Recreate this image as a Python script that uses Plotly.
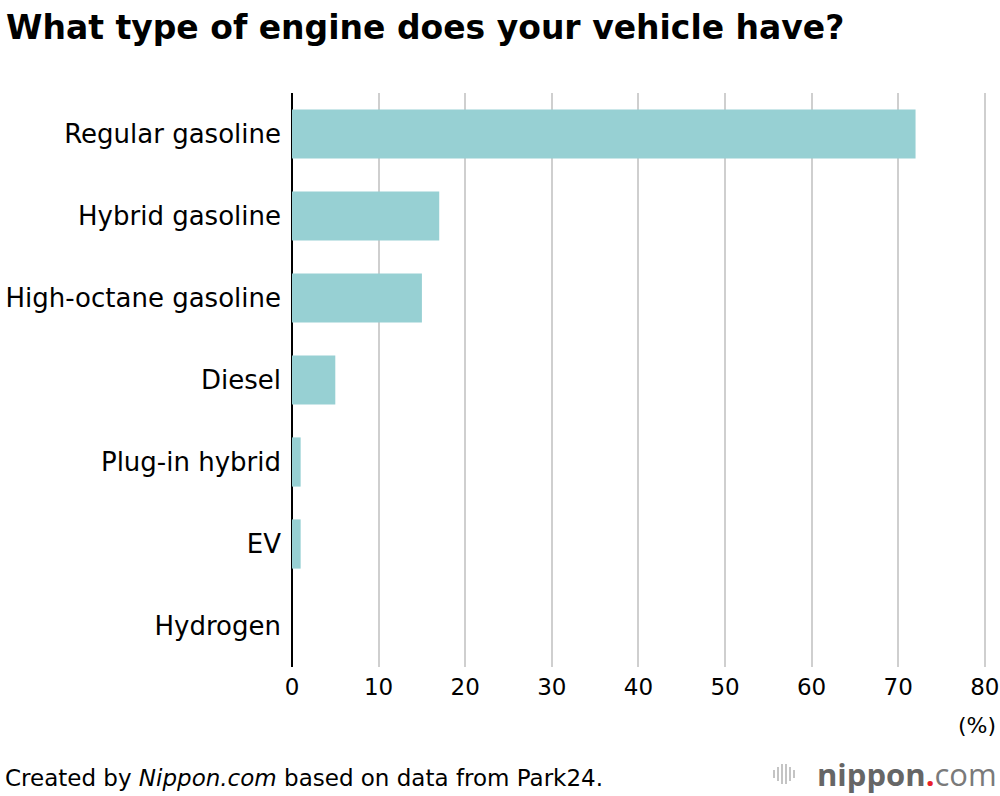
import plotly.graph_objects as go

categories = ["Regular gasoline", "Hybrid gasoline", "High-octane gasoline",
              "Diesel", "Plug-in hybrid", "EV", "Hydrogen"]
values = [72, 17, 15, 5, 1, 1, 0]
x_ticks = [0, 10, 20, 30, 40, 50, 60, 70, 80]

FONT = "DejaVu Sans, Liberation Sans, Arial, sans-serif"
BAR_COLOR = "#97d0d3"

W, H = 1000, 796
L, R, T, B = 292, 13, 93, 129
PW, PH = W - L - R, H - T - B


def px_x(x):
    return (x - L) / PW


def px_y(y):
    return (H - B - y) / PH


fig = go.Figure()
fig.add_trace(go.Bar(
    x=values, y=categories, orientation="h",
    marker=dict(color=BAR_COLOR, line=dict(width=0)),
    width=0.6, hoverinfo="x+y",
))

fig.update_layout(
    width=W, height=H,
    margin=dict(l=L, r=R, t=T, b=B, autoexpand=False),
    paper_bgcolor="white", plot_bgcolor="white",
    showlegend=False,
    font=dict(family=FONT, color="black"),
    xaxis=dict(
        range=[0, 80.25], tickvals=x_ticks, ticktext=[str(v) for v in x_ticks],
        showgrid=True, gridcolor="#cfcfcf", gridwidth=2,
        zeroline=True, zerolinecolor="black", zerolinewidth=2,
        showline=False, ticks="", tickfont=dict(size=23, family=FONT, color="black"),
        ticklabelstandoff=4, automargin=False,
        fixedrange=True,
    ),
    yaxis=dict(
        categoryorder="array", categoryarray=categories, autorange="reversed",
        showgrid=False, zeroline=False, showline=False, ticks="",
        tickfont=dict(size=26, family=FONT, color="black"),
        ticklabelstandoff=10, automargin=False,
        fixedrange=True,
    ),
)

annotations = [
    dict(text="<b>What type of engine does your vehicle have?</b>",
         xref="paper", yref="paper", x=px_x(4), y=px_y(28),
         xanchor="left", yanchor="middle", showarrow=False,
         font=dict(size=33, family=FONT, color="black")),
    dict(text="(%)", xref="paper", yref="paper", x=px_x(998), y=px_y(725),
         xanchor="right", yanchor="middle", showarrow=False,
         font=dict(size=22, family=FONT, color="black")),
    dict(text="Created by <i>Nippon.com</i> based on data from Park24.",
         xref="paper", yref="paper", x=px_x(3), y=px_y(778),
         xanchor="left", yanchor="middle", showarrow=False,
         font=dict(size=23, family=FONT, color="black")),
    dict(text="<b>nippon</b><span style='color:#e8202a'><b>.</b></span><span style='color:#7a7a7a'>com</span>",
         xref="paper", yref="paper", x=px_x(999), y=px_y(774),
         xanchor="right", yanchor="middle", showarrow=False,
         font=dict(size=31, family="Open Sans, Lato, sans-serif", color="#666666")),
]
fig.update_layout(annotations=annotations)

# decorative logo icon (vertical lines)
icon_x = [774, 778, 782, 786, 790, 794]
icon_h = [8, 14, 20, 20, 14, 8]
shapes = []
for xp, h in zip(icon_x, icon_h):
    shapes.append(dict(type="line", xref="paper", yref="paper",
                       x0=px_x(xp), x1=px_x(xp),
                       y0=px_y(774 + h / 2), y1=px_y(774 - h / 2),
                       line=dict(color="#b0b0b0", width=1.5)))
fig.update_layout(shapes=shapes)

fig.write_html("out.html", config={"displayModeBar": False},
               post_script="document.body.style.margin='0';")
